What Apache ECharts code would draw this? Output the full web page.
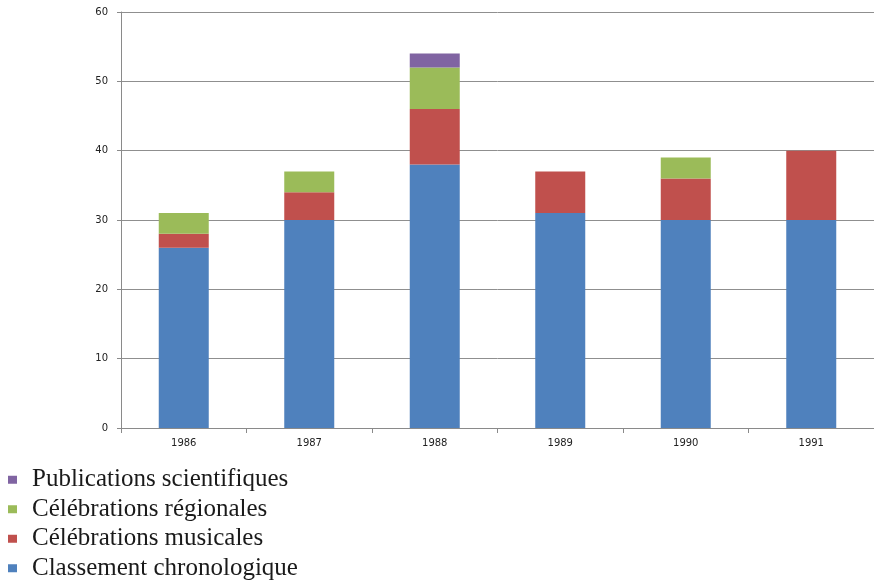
<!DOCTYPE html>
<html>
<head>
<meta charset="utf-8">
<script src="https://cdn.jsdelivr.net/npm/echarts@6/dist/echarts.min.js"></script>
<style>
  html, body { margin: 0; padding: 0; background: #fff; }
  #chart { width: 874px; height: 581px; }
</style>
</head>
<body>
<div id="chart"></div>
<script>
// Years on the category axis
const years = ['1986', '1987', '1988', '1989', '1990', '1991'];

// Stacked series, bottom to top
const classement = [26, 30, 38, 31, 30, 30];
const musicales = [2, 4, 8, 6, 6, 10];
const regionales = [3, 3, 6, 0, 3, 0];
const publications = [0, 0, 2, 0, 0, 0];

const seriesNames = [
  'Classement chronologique',
  'Célébrations musicales',
  'Célébrations régionales',
  'Publications scientifiques'
];
const seriesData = [classement, musicales, regionales, publications];
const seriesColors = ['#4F81BD', '#C0504D', '#9BBB59', '#8064A2'];

const chart = echarts.init(document.getElementById('chart'));

chart.setOption({
  animation: false,
  backgroundColor: '#fff',
  grid: { left: 121, right: 0, top: 12, bottom: 153, containLabel: false },
  legend: {
    orient: 'vertical',
    left: 8,
    top: 465,
    height: 140,
    padding: 0,
    data: seriesNames.slice().reverse(),
    icon: 'rect',
    itemWidth: 9,
    itemHeight: 8,
    itemGap: 0,
    selectedMode: false,
    textStyle: {
      fontFamily: '"Liberation Serif", "DejaVu Serif", serif',
      fontSize: 25,
      lineHeight: 29.5,
      color: '#1a1a1a',
      padding: [0, 0, 0, 10]
    }
  },
  xAxis: {
    type: 'category',
    data: years,
    axisLine: { lineStyle: { color: '#8a8a8a', width: 1 } },
    axisTick: { show: true, length: 5, alignWithLabel: false, lineStyle: { color: '#8a8a8a' } },
    axisLabel: { color: '#222', fontSize: 10, fontFamily: '"DejaVu Sans", sans-serif', margin: 10 }
  },
  yAxis: {
    type: 'value',
    min: 0,
    max: 60,
    interval: 10,
    axisLine: { show: true, lineStyle: { color: '#8a8a8a', width: 1 } },
    axisTick: { show: true, length: 4, lineStyle: { color: '#8a8a8a' } },
    axisLabel: { color: '#222', fontSize: 10, fontFamily: '"DejaVu Sans", sans-serif', margin: 13 },
    splitLine: { show: true, lineStyle: { color: '#8f8f8f', width: 1 } }
  },
  series: seriesNames.map((name, i) => ({
    name: name,
    type: 'bar',
    stack: 'total',
    barWidth: 50,
    data: seriesData[i],
    itemStyle: { color: seriesColors[i] }
  }))
});
</script>
</body>
</html>
